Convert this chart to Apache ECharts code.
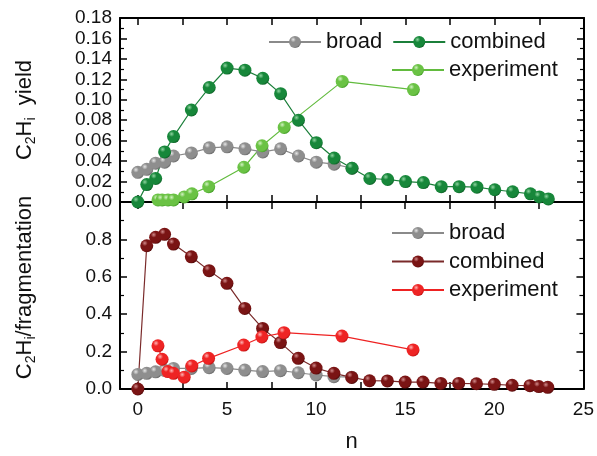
<!DOCTYPE html>
<html>
<head>
<meta charset="utf-8">
<script src="https://cdn.jsdelivr.net/npm/echarts@6/dist/echarts.min.js"></script>
<style>
  html, body { margin: 0; padding: 0; background: #fff; }
  #chart { width: 597px; height: 456px; }
</style>
</head>
<body>
<div id="chart"></div>
<script>
// n values
var nTheory = [0, 0.5, 1, 1.5, 2, 3, 4, 5, 6, 7, 8, 9, 10, 11, 12, 13, 14, 15, 16, 17, 18, 19, 20, 21, 22, 22.5, 23];
var nBroad = [0, 0.5, 1, 1.5, 2, 3, 4, 5, 6, 7, 8, 9, 10, 11, 12];
var nExp = [1.13, 1.36, 1.69, 2.0, 2.6, 3.03, 3.97, 5.94, 6.96, 8.2, 11.45, 15.44];

// top panel: C2Hi yield
var yieldBroad = [0.029, 0.032, 0.038, 0.039, 0.045, 0.048, 0.053, 0.054, 0.052, 0.049, 0.052, 0.045, 0.039, 0.037, 0.033];
var yieldCombined = [0.0, 0.017, 0.023, 0.049, 0.064, 0.090, 0.112, 0.131, 0.129, 0.121, 0.106, 0.080, 0.058, 0.043, 0.033,
                     0.023, 0.022, 0.020, 0.019, 0.015, 0.015, 0.0145, 0.012, 0.010, 0.008, 0.005, 0.003];
var yieldExp = [0.002, 0.002, 0.002, 0.002, 0.005, 0.008, 0.015, 0.034, 0.055, 0.073, 0.118, 0.110];

// bottom panel: C2Hi / fragmentation
var fragBroad = [0.078, 0.084, 0.092, 0.100, 0.110, 0.110, 0.114, 0.110, 0.101, 0.093, 0.098, 0.087, 0.075, 0.066, 0.063];
var fragCombined = [0.0, 0.766, 0.811, 0.827, 0.775, 0.707, 0.633, 0.565, 0.431, 0.324, 0.248, 0.164, 0.112, 0.084, 0.062,
                    0.044, 0.043, 0.037, 0.037, 0.030, 0.030, 0.028, 0.025, 0.020, 0.018, 0.013, 0.009];
var fragExp = [0.231, 0.159, 0.093, 0.084, 0.063, 0.123, 0.164, 0.235, 0.278, 0.301, 0.283, 0.209];

var xLabels = [0, 5, 10, 15, 20, 25];
var xTicks = [0, 2.5, 5, 7.5, 10, 12.5, 15, 17.5, 20, 22.5, 25];

function pairs(xs, ys) {
    return xs.map(function (x, i) { return [x, ys[i]]; });
}

function ball(main, dark, light) {
    return {
        type: 'radial', x: 0.35, y: 0.3, r: 0.75,
        colorStops: [
            {offset: 0, color: light},
            {offset: 0.3, color: main},
            {offset: 0.8, color: main},
            {offset: 1, color: dark}
        ]
    };
}

var FONT = 'Liberation Sans, Arial, sans-serif';
var gray = ball('#8e8e8e', '#666666', '#e6e6e6');
var dGreen = ball('#17873a', '#0c5c24', '#8fd4a0');
var lGreen = ball('#6ac244', '#3f9a24', '#d2f2c2');
var dRed = ball('#7a1414', '#4e0808', '#d08a8a');
var red = ball('#ee2424', '#b80e0e', '#ffb4b4');

function mkSeries(name, xi, yi, xs, ys, fill, lineColor) {
    return {
        name: name, type: 'line', xAxisIndex: xi, yAxisIndex: yi,
        data: pairs(xs, ys),
        symbol: 'circle', symbolSize: 13,
        itemStyle: {color: fill, borderWidth: 0},
        lineStyle: {color: lineColor, width: 1.2}
    };
}

function xAx(grid, pos, labels) {
    return {
        type: 'value', gridIndex: grid, position: pos, min: -1, max: 25,
        axisLine: {show: true, onZero: false, lineStyle: {color: '#000', width: 2}},
        axisTick: {show: true, inside: true, length: 7, customValues: xTicks, lineStyle: {color: '#000', width: 1.5}},
        axisLabel: labels ? {show: true, customValues: xLabels, fontSize: 19, color: '#111', fontFamily: FONT, margin: 11} : {show: false},
        splitLine: {show: false}
    };
}

function yAx(grid, pos, max, interval, digits, name, labels, shift) {
    var ax = {
        type: 'value', gridIndex: grid, position: pos, min: 0, max: max, interval: interval,
        axisLine: {show: true, onZero: false, lineStyle: {color: '#000', width: 2}},
        axisTick: {show: true, inside: true, length: 7, lineStyle: {color: '#000', width: 1.5}},
        minorTick: {show: true, splitNumber: 2, length: 4, lineStyle: {color: '#000', width: 1.2}},
        axisLabel: {show: false},
        splitLine: {show: false}
    };
    if (labels) {
        ax.axisLabel = {
            show: true, fontSize: 19, color: '#111', fontFamily: FONT, margin: 8,
            showMaxLabel: digits === 2,
            formatter: function (v) { return v.toFixed(digits); }
        };
        ax.name = name;
        ax.nameLocation = 'middle';
        ax.nameGap = 82;
        ax.nameTextStyle = {
            fontSize: 22, color: '#111', fontFamily: FONT,
            padding: [0, 0, 0, shift],
            rich: {
                n: {fontSize: 22, fontFamily: FONT, color: '#111'},
                s: {fontSize: 14, fontFamily: FONT, color: '#111', padding: [12, 0, 0, 0]}
            }
        };
    }
    return ax;
}

var chart = echarts.init(document.getElementById('chart'));
var legendText = {fontSize: 22, color: '#111', fontFamily: FONT, lineHeight: 22};
var legendFmt = function (name) { return name.replace(/2$/, ''); };

var option = {
    animation: false,
    backgroundColor: '#fff',
    grid: [
        {left: 120, right: 13, top: 18, height: 184},
        {left: 120, right: 13, top: 202, height: 187}
    ],
    xAxis: [
        xAx(0, 'bottom', false),
        xAx(0, 'top', false),
        Object.assign(xAx(1, 'bottom', true), {
            name: 'n', nameLocation: 'middle', nameGap: 42,
            nameTextStyle: {fontSize: 22, color: '#111', fontFamily: FONT}
        }),
        xAx(1, 'top', false)
    ],
    yAxis: [
        yAx(0, 'left', 0.18, 0.02, 2, '{n|C}{s|2}{n|H}{s|i}{n|  yield}', true, 0),
        yAx(0, 'right', 0.18, 0.02, 2, '', false, 0),
        yAx(1, 'left', 1.0, 0.2, 1, '{n|C}{s|2}{n|H}{s|i}{n|/fragmentation}', true, 16),
        yAx(1, 'right', 1.0, 0.2, 1, '', false, 0)
    ],
    legend: [
        {data: ['broad', 'combined'], left: 263, top: 26, itemWidth: 52, itemHeight: 15, itemGap: 10,
         textStyle: legendText, formatter: legendFmt, selectedMode: false},
        {data: ['experiment'], left: 386, top: 54, itemWidth: 52, itemHeight: 15,
         textStyle: legendText, formatter: legendFmt, selectedMode: false},
        {data: ['broad2', 'combined2', 'experiment2'], orient: 'vertical', left: 386, top: 217,
         itemWidth: 52, itemHeight: 15, itemGap: 6.5,
         textStyle: legendText, formatter: legendFmt, selectedMode: false}
    ],
    series: [
        mkSeries('broad', 0, 0, nBroad, yieldBroad, gray, '#8a8a8a'),
        mkSeries('combined', 0, 0, nTheory, yieldCombined, dGreen, '#1b7f3a'),
        mkSeries('experiment', 0, 0, nExp, yieldExp, lGreen, '#62bb3e'),
        mkSeries('broad2', 2, 2, nBroad, fragBroad, gray, '#8a8a8a'),
        mkSeries('combined2', 2, 2, nTheory, fragCombined, dRed, '#7a2a2a'),
        mkSeries('experiment2', 2, 2, nExp, fragExp, red, '#ee2222')
    ]
};
chart.setOption(option);
</script>
</body>
</html>
